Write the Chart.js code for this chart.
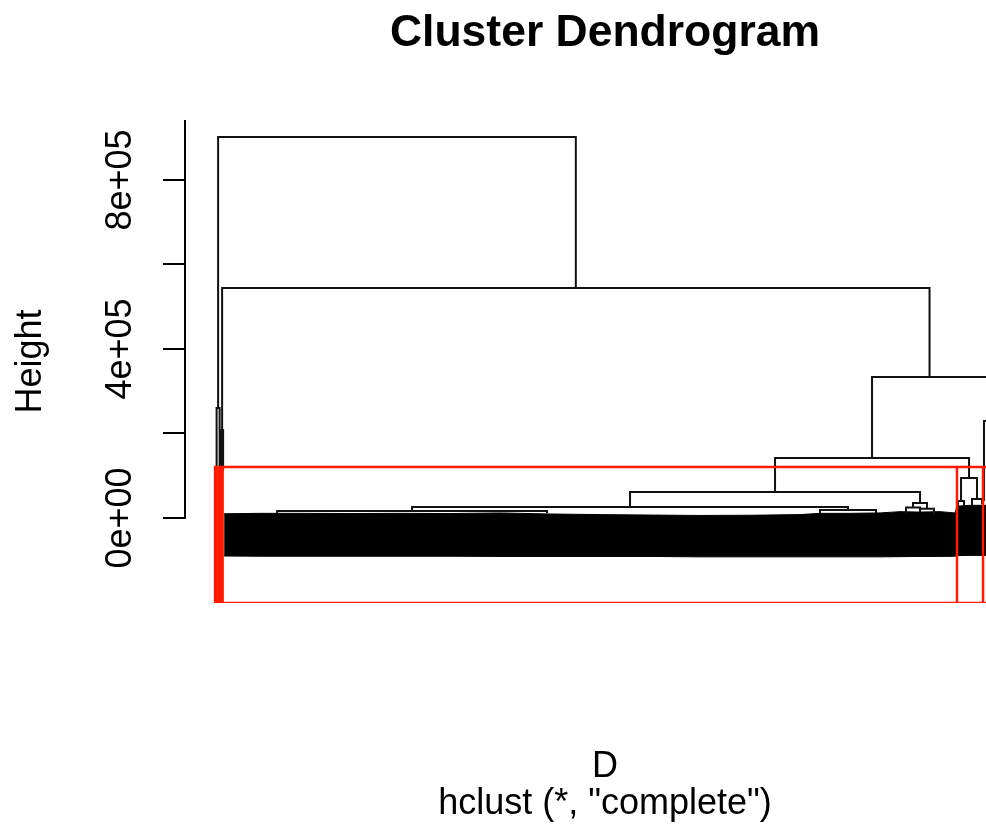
<!DOCTYPE html>
<html><head><meta charset="utf-8">
<script src="https://cdn.jsdelivr.net/npm/chart.js@4.4.1/dist/chart.umd.min.js"></script>
<style>html,body{margin:0;padding:0;background:#fff;overflow:hidden}canvas{display:block}</style>
</head><body>
<canvas id="c" width="986" height="828"></canvas>
<script>
// ---- text ----
const titleText = 'Cluster Dendrogram';
const xAxisTitle = 'D';
const subTitle = 'hclust (*, "complete")';
const yAxisTitle = 'Height';

// ---- y axis ----
const yTicks = [0, 200000, 400000, 600000, 800000];
const yTickLabels = ['0e+00', '', '4e+05', '', '8e+05'];

// ---- dendrogram merges (x in leaf-order units, heights in raw units) ----
const mergeLeftX   = [2.57, 7.71, 843.2, 987.1, 718.5, 957.6, 532.1, 251.9, 895.9, 0.64, 6.43, 78.4, 776.3, 886.9, 905.0, 953.7, 971.7];
const mergeRightX  = [462.4, 917.1, 991.0, 995.0, 967.9, 978.1, 904.9, 812.3, 913.9, 4.5, 9.0, 425.4, 848.3, 904.9, 922.8, 961.4, 984.6];
const mergeHeight  = [901800, 544400, 333700, 229600, 142000, 94700, 61500, 26000, 35500, 260400, 208300, 16600, 19000, 25000, 22000, 40000, 45000];
const mergeLeftH   = [260400, 208300, 142000, 42600, 61500, 40000, 26000, 16600, 25000, 114000, 114000, 12000, 12000, 13000, 14000, 25000, 30000];
const mergeRightH  = [544400, 333700, 229600, 40000, 94700, 45000, 35500, 19000, 22000, 114000, 114000, 14000, 13000, 15000, 12000, 30000, 35000];

// ---- dense leaf/label mass at the bottom ----
const massX      = [10.3, 56.6, 108.0, 172.2, 236.5, 300.8, 365.0, 429.3, 493.6, 557.8, 622.1, 686.4, 750.6, 776.3, 814.9, 853.5, 879.2, 904.9, 930.6, 949.9, 952.4, 969.2, 997.4];
const massTop    = [10000, 11000, 11000, 10500, 11000, 10500, 12000, 9500, 8000, 7000, 6000, 6500, 8000, 11000, 11000, 12000, 15000, 14000, 15000, 12000, 28000, 30000, 30000];
const massBottom = [-90000, -90500, -90500, -90500, -90500, -90500, -91000, -91000, -91000, -91000, -92000, -92000, -92000, -92000, -92000, -92000, -91500, -91000, -91000, -90500, -89000, -88500, -88500];

// ---- rect.hclust cluster boxes ----
const rectEdges = [-1.3, 0.64, 2.57, 4.5, 6.43, 8.36, 952.4, 985.9, 1010];
const rectTop = 120700;

const yMin = -201200, yMax = 942000;
const xMin = -40, xMax = 989.7;
const fam = '"Liberation Sans", Arial, Helvetica, sans-serif';

// build dendrogram path data
const dendroPts = [];
for (let i = 0; i < mergeHeight.length; i++) {
  dendroPts.push({x: mergeLeftX[i], y: mergeLeftH[i]});
  dendroPts.push({x: mergeLeftX[i], y: mergeHeight[i]});
  dendroPts.push({x: mergeRightX[i], y: mergeHeight[i]});
  dendroPts.push({x: mergeRightX[i], y: mergeRightH[i]});
  dendroPts.push({x: mergeRightX[i], y: null});
}
const rectPts = [];
for (let i = 0; i < rectEdges.length - 1; i++) {
  const l = rectEdges[i], r = rectEdges[i + 1];
  rectPts.push({x: l, y: yMin}, {x: l, y: rectTop}, {x: r, y: rectTop}, {x: r, y: yMin}, {x: l, y: yMin}, {x: l, y: null});
}
const massBottomPts = massX.map((x, i) => ({x, y: massBottom[i]}));
const massTopPts = massX.map((x, i) => ({x, y: massTop[i]}));

const rPlot = {
  id: 'rPlot',
  beforeDraw(chart) {
    const ctx = chart.ctx;
    ctx.save(); ctx.fillStyle = '#fff'; ctx.fillRect(0, 0, chart.width, chart.height); ctx.restore();
  },
  afterDraw(chart) {
    const ctx = chart.ctx, ys = chart.scales.y, area = chart.chartArea;
    ctx.save();
    ctx.strokeStyle = '#000'; ctx.lineWidth = 2;
    ctx.beginPath();
    ctx.moveTo(area.left, ys.getPixelForValue(yTicks[0]) + 1);
    ctx.lineTo(area.left, area.top);
    ctx.stroke();
    ctx.fillStyle = '#000';
    ctx.font = '36px ' + fam;
    ctx.textAlign = 'center'; ctx.textBaseline = 'alphabetic';
    yTicks.forEach((v, i) => {
      if (!yTickLabels[i]) return;
      const py = ys.getPixelForValue(v);
      ctx.save(); ctx.translate(131, py); ctx.rotate(-Math.PI / 2); ctx.fillText(yTickLabels[i], 0, 0); ctx.restore();
    });
    ctx.save(); ctx.translate(41, (area.top + area.bottom) / 2); ctx.rotate(-Math.PI / 2); ctx.fillText(yAxisTitle, 0, 0); ctx.restore();
    ctx.fillText(xAxisTitle, 605, 777);
    ctx.fillText(subTitle, 605, 814);
    ctx.font = 'bold 44.5px ' + fam;
    ctx.fillText(titleText, 605, 46);
    ctx.restore();
  }
};

new Chart(document.getElementById('c'), {
  type: 'line',
  data: {
    datasets: [
      {data: rectPts, borderColor: '#ff1a00', borderWidth: 2.5, pointRadius: 0, spanGaps: false, tension: 0, fill: false, order: 0, clip: {left: 5, top: 5, right: 0, bottom: 0}},
      {data: dendroPts, borderColor: '#111', borderWidth: 2, pointRadius: 0, spanGaps: false, tension: 0, fill: false, borderCapStyle: 'square', order: 1},
      {data: massBottomPts, borderColor: '#000', borderWidth: 1, pointRadius: 0, tension: 0, fill: false, order: 3},
      {data: massTopPts, borderColor: '#000', borderWidth: 1, pointRadius: 0, tension: 0, fill: '-1', backgroundColor: '#000', order: 3}
    ]
  },
  options: {
    responsive: false, animation: false, events: [],
    layout: {padding: {left: 163, right: 0, top: 120, bottom: 225}},
    plugins: {legend: {display: false}, tooltip: {enabled: false}, title: {display: false}},
    scales: {
      x: {type: 'linear', min: xMin, max: xMax, display: false},
      y: {
        type: 'linear', min: yMin, max: yMax, position: 'left',
        afterBuildTicks: (scale) => { scale.ticks = yTicks.map(v => ({value: v})); },
        ticks: {display: false},
        grid: {display: true, drawOnChartArea: false, drawTicks: true, tickLength: 22, color: '#000', lineWidth: 2},
        border: {display: false}
      }
    }
  },
  plugins: [rPlot]
});
</script>
</body></html>
